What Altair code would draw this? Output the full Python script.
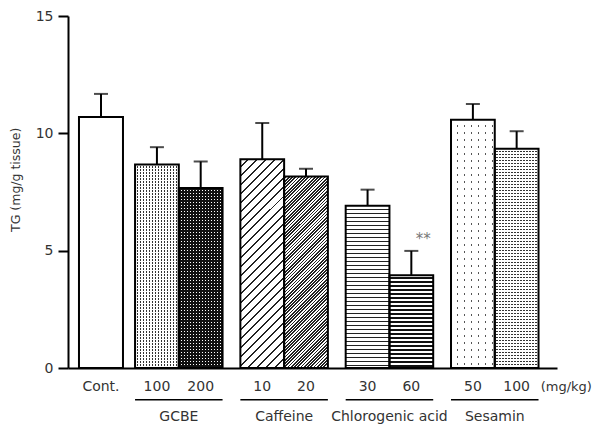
import math
import altair as alt
import pandas as pd

# ---------------- data ----------------
groups = ["Cont.", "GCBE", "GCBE", "Caffeine", "Caffeine",
          "Chlorogenic acid", "Chlorogenic acid", "Sesamin", "Sesamin"]
doses = ["Cont.", "100", "200", "10", "20", "30", "60", "50", "100"]
slots = ["a", "a", "b", "a", "b", "a", "b", "a", "b"]
means = [10.70, 8.67, 7.67, 8.90, 8.16, 6.91, 3.95, 10.58, 9.34]
errors = [0.98, 0.74, 1.13, 1.54, 0.33, 0.69, 1.04, 0.67, 0.75]
signif = ["", "", "", "", "", "", "**", "", ""]
bar_ids = ["cont", "g100", "g200", "c10", "c20", "a30", "a60", "s50", "s100"]
group_names = ["GCBE", "Caffeine", "Chlorogenic acid", "Sesamin"]
unit_label = "(mg/kg)"
y_title = "TG (mg/g tissue)"
y_ticks = [0, 5, 10, 15]

df = pd.DataFrame({
    "group": groups, "dose": doses, "slot": slots, "mean": means,
    "err": errors, "sig": signif, "id": bar_ids,
})
df["top"] = df["mean"] + df["err"]

# ---------------- layout / style ----------------
PLOT_W, PLOT_H, YMAX = 489, 352, 15
BAR_W = 43.75
FONT = "DejaVu Sans"
TXT = "#333333"
CLEAR = "rgba(255,255,255,0)"


def stripe_stops(length, period, thick, bg, line):
    stops = []
    n = int(math.ceil(length / period)) + 1
    for i in range(n):
        s = i * period
        a = s + (period - thick)
        b = s + period
        for off, col in ((s, bg), (a, bg), (a, line), (b, line)):
            o = min(max(off / length, 0.0), 1.0)
            stops.append(alt.GradientStop(offset=round(o, 5), color=col))
    return stops


def hstripes(h, period, thick, bg, line):
    return alt.LinearGradient(gradient="linear", x1=0, y1=0, x2=0, y2=1,
                              stops=stripe_stops(h, period, thick, bg, line))


def vstripes(w, period, thick, bg, line):
    return alt.LinearGradient(gradient="linear", x1=0, y1=0, x2=1, y2=0,
                              stops=stripe_stops(w, period, thick, bg, line))


def dstripes(w, h, period, thick, bg, line):
    r = h / w
    a = (1 + r) / (1 + r * r)
    length = (w + h) / math.sqrt(2)
    return alt.LinearGradient(gradient="linear", x1=0, y1=0, x2=a, y2=a * r,
                              stops=stripe_stops(length, period, thick, bg, line))


def bar_h(v):
    return v * PLOT_H / YMAX


# pattern description per bar: list of fills drawn bottom to top
def fills_for(bid, v):
    h = bar_h(v)
    if bid == "g100":
        return [hstripes(h, 3, 1.1, "white", "#333"), vstripes(BAR_W, 3, 1.1, "white", CLEAR)]
    if bid == "g200":
        return [hstripes(h, 3, 1.2, "#111", "white"), vstripes(BAR_W, 3, 1.2, "#111", CLEAR)]
    if bid == "c10":
        return [dstripes(BAR_W, h, 6.4, 1.4, "white", "#222")]
    if bid == "c20":
        return [dstripes(BAR_W, h, 2.3, 1.2, "white", "#222")]
    if bid == "a30":
        return [hstripes(h, 4, 1.1, "white", "#222")]
    if bid == "a60":
        return [hstripes(h, 4, 2.7, "white", "#111")]
    if bid == "s50":
        return [hstripes(h, 7, 1.4, "white", "#555"), vstripes(BAR_W, 7, 1.4, "white", CLEAR)]
    if bid == "s100":
        return [hstripes(h, 3, 1.3, "white", "#333"), vstripes(BAR_W, 3, 1.3, "white", CLEAR)]
    return ["white"]


Y_AXIS = alt.Axis(values=y_ticks, title=y_title, grid=False,
                  tickSize=10, tickWidth=2, tickColor="black",
                  domainWidth=2, domainColor="black",
                  labelFontSize=14, labelPadding=5, labelColor=TXT, labelFont=FONT,
                  titleFont=FONT, titleFontSize=12.5, titleFontWeight="normal",
                  titleColor=TXT, titleX=-46,
                  titleY=PLOT_H * (1 - 8.04 / YMAX))
Y_SCALE = alt.Scale(domain=[0, YMAX], nice=False)
Y = alt.Y("mean:Q", scale=Y_SCALE, axis=Y_AXIS)
Y_TOP = alt.Y("top:Q", scale=Y_SCALE, axis=Y_AXIS)

GX = alt.X("group:N",
           scale=alt.Scale(domain=group_names, paddingInner=0.169,
                           paddingOuter=0.406, align=0.784),
           axis=alt.Axis(labels=False, ticks=False, title=None, domain=True,
                         domainWidth=2, domainColor="black"))
GXO = alt.XOffset("slot:N", scale=alt.Scale(domain=["a", "b"]))

# control bar sits in the first of ten equal slots of its own band scale
cont_domain = ["Cont."] + [f"_{i}" for i in range(9)]
CX = alt.X("group:N",
           scale=alt.Scale(domain=cont_domain, paddingInner=0,
                           paddingOuter=0.557, align=0.224),
           axis=None)

gdf = df[df["group"] != "Cont."]
cdf = df[df["group"] == "Cont."]

# ---------- control layer ----------
cont_layers = [
    alt.Chart(cdf).mark_bar(fill="white", stroke="black", strokeWidth=2).encode(x=CX, y=Y),
    alt.Chart(cdf).mark_rule(color="black", strokeWidth=2).encode(x=CX, y=Y, y2="top:Q"),
    alt.Chart(cdf).mark_tick(color="black", thickness=2, size=14, orient="horizontal").encode(x=CX, y=Y_TOP),
    alt.Chart(cdf).mark_text(font=FONT, fontSize=14, color=TXT, baseline="middle").encode(
        x=CX, y=alt.value(PLOT_H + 19), text="dose:N"),
]
cont = alt.layer(*cont_layers)

# ---------- treatment layers ----------
g_layers = []
for bid, v in zip(bar_ids, means):
    if bid == "cont":
        continue
    for f in fills_for(bid, v):
        g_layers.append(
            alt.Chart(gdf).transform_filter(alt.datum.id == bid)
            .mark_bar(fill=f, strokeWidth=0)
            .encode(x=GX, xOffset=GXO, y=Y)
        )
g_layers += [
    alt.Chart(gdf).mark_bar(fill="white", fillOpacity=0, stroke="black", strokeWidth=2)
    .encode(x=GX, xOffset=GXO, y=Y),
    alt.Chart(gdf).mark_rule(color="black", strokeWidth=2)
    .encode(x=GX, xOffset=GXO, y=Y, y2="top:Q"),
    alt.Chart(gdf).mark_tick(color="black", thickness=2, size=14, orient="horizontal")
    .encode(x=GX, xOffset=GXO, y=Y_TOP),
    alt.Chart(gdf).transform_filter(alt.datum.sig != "")
    .mark_text(font=FONT, fontSize=15, color="#777777", dx=12, dy=-12, baseline="middle")
    .encode(x=GX, xOffset=GXO, y=Y_TOP, text="sig:N"),
    alt.Chart(gdf).mark_text(font=FONT, fontSize=14, color=TXT, baseline="middle")
    .encode(x=GX, xOffset=GXO, y=alt.value(PLOT_H + 19), text="dose:N"),
    alt.Chart(gdf).transform_filter(alt.datum.slot == "a")
    .mark_rect(color="black")
    .encode(x=GX, y=alt.value(PLOT_H + 31), y2=alt.value(PLOT_H + 32.6)),
    alt.Chart(gdf).transform_filter(alt.datum.slot == "a")
    .mark_text(font=FONT, fontSize=14, color=TXT, baseline="middle")
    .encode(x=GX, y=alt.value(PLOT_H + 49), text="group:N"),
    alt.Chart(gdf).transform_filter((alt.datum.group == "Sesamin") & (alt.datum.slot == "b"))
    .mark_text(font=FONT, fontSize=13, color=TXT, baseline="middle", align="left", dx=24)
    .encode(x=GX, xOffset=GXO, y=alt.value(PLOT_H + 19), text=alt.value(unit_label)),
]
grp = alt.layer(*g_layers)

chart = (
    alt.layer(cont, grp)
    .resolve_scale(x="independent")
    .properties(width=PLOT_W, height=PLOT_H,
                autosize=alt.AutoSizeParams(type="none"),
                padding={"left": 60, "top": 8, "right": 35, "bottom": 56})
    .configure_view(stroke=None)
)

chart.save("out.html", embed_options={"renderer": "svg", "actions": False})
